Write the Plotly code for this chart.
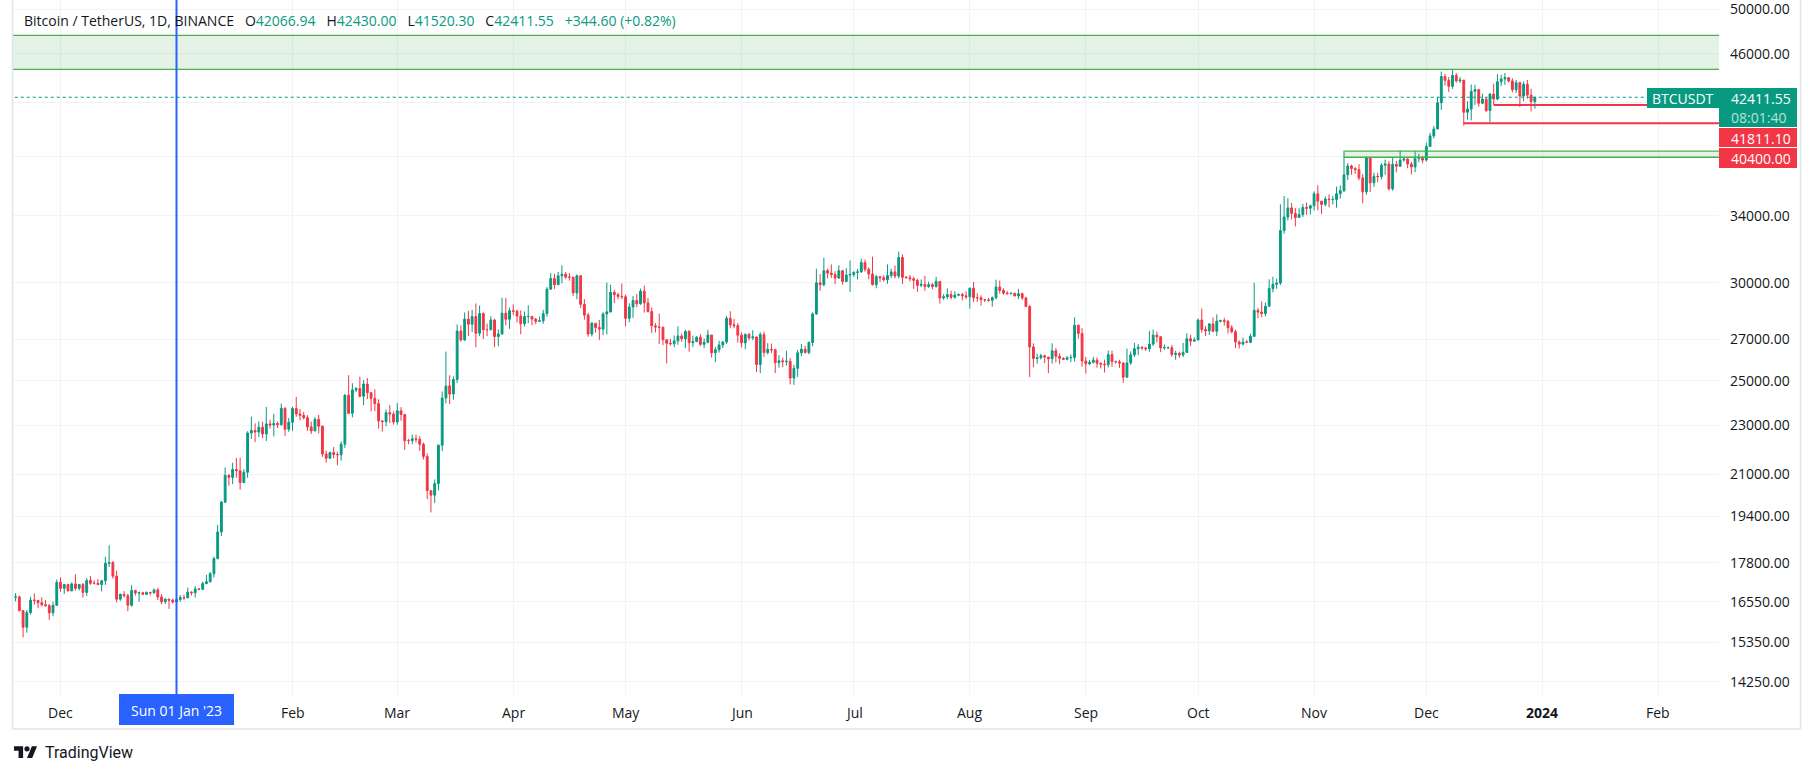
import math
import pandas as pd
import plotly.graph_objects as go

W, H = 1814, 774

# ---------------- data (daily BTCUSDT candles) ----------------
first_open = 16690

c_2022_11 = [16700, 16280, 15780, 16220, 16600, 16590, 16520, 16460, 16430, 16210, 16440, 17160]
h_2022_11 = [16820, 16740, 16290, 16300, 16700, 16810, 16600, 16690, 16600, 16480, 16550, 17250]
l_2022_11 = [16560, 16250, 15480, 15620, 16160, 16460, 16350, 16400, 16400, 16000, 16110, 16420]

c_2022_12 = [16970, 17090, 16890, 17110, 16970, 17090, 16840, 17220, 17130, 17130, 17090, 17210, 17780, 17810, 17360, 16630,
             16780, 16740, 16440, 16900, 16820, 16830, 16780, 16840, 16830, 16920, 16700, 16550, 16630, 16600, 16540]
h_2022_12 = [17320, 17100, 17110, 17160, 17420, 17100, 17140, 17300, 17360, 17230, 17270, 17240, 18000, 18390, 17850, 17530,
             16800, 16880, 16800, 17070, 16920, 16870, 16860, 16870, 16860, 16960, 16980, 16790, 16660, 16640, 16650]
l_2022_12 = [16860, 16790, 16870, 16880, 16900, 16900, 16680, 16730, 17080, 17090, 17070, 16870, 17080, 17660, 17280, 16530,
             16580, 16680, 16260, 16400, 16740, 16550, 16770, 16760, 16750, 16800, 16600, 16470, 16480, 16330, 16490]

c_2023_01 = [16620, 16680, 16670, 16850, 16830, 16950, 16940, 17120, 17180, 17440, 17940, 18850, 19930, 20950, 20870, 21180,
             21130, 20670, 21070, 22670, 22780, 22710, 22920, 22630, 23060, 23010, 23080, 23030, 23740, 22830, 23130]
h_2023_01 = [16630, 16760, 16770, 16990, 16880, 17040, 16970, 17180, 17400, 17490, 18000, 19100, 19970, 21260, 21000, 21450,
             21640, 21650, 21190, 22750, 23370, 23080, 23170, 23160, 23800, 23240, 23500, 23160, 23950, 23790, 23320]
l_2023_01 = [16500, 16550, 16600, 16660, 16750, 16680, 16910, 16910, 17100, 17150, 17310, 17910, 18710, 19890, 20550, 20610,
             20860, 20400, 20660, 20860, 22420, 22290, 22510, 22460, 22330, 22860, 22530, 22880, 22980, 22550, 22720]

c_2023_02 = [23730, 23490, 23430, 23330, 22930, 22760, 23260, 22960, 21800, 21630, 21860, 21780, 21770, 22200, 24330, 23520,
             24570, 24630, 24280, 24840, 24440, 24190, 23950, 23190, 23160, 23550, 23490, 23140]
h_2023_02 = [23810, 24250, 23710, 23590, 23440, 23160, 23360, 23450, 22990, 21940, 21900, 22090, 21890, 22320, 24380, 25250,
             24880, 24700, 25190, 25020, 25120, 24480, 24600, 24140, 23220, 23690, 23880, 23600]
l_2023_02 = [22760, 23360, 23210, 23250, 22760, 22630, 22750, 22660, 21690, 21450, 21600, 21630, 21350, 21530, 22050, 23500,
             23340, 24470, 24230, 23880, 24150, 23600, 23620, 22860, 22730, 22960, 23100, 23030]

c_2023_03 = [23630, 23470, 22350, 22350, 22430, 22410, 22200, 21700, 20360, 20190, 20630, 22160, 24200, 24750, 24380, 25050,
             27420, 26970, 28040, 27770, 28170, 27310, 28330, 27490, 27490, 27990, 27140, 27270, 28350, 28030, 28480]
h_2023_03 = [23980, 23790, 23480, 22420, 22610, 22600, 22540, 22270, 21820, 20370, 20790, 22190, 24500, 26390, 25250, 25200,
             27760, 27720, 28390, 28470, 28530, 28870, 28760, 28390, 27800, 28190, 28050, 27500, 29180, 29170, 28650]
l_2023_03 = [23020, 23190, 21970, 22200, 22200, 22270, 21930, 21580, 20040, 19550, 19900, 20370, 21920, 23960, 23930, 24120,
             24890, 26880, 26920, 27170, 27370, 26600, 27160, 27020, 27160, 27450, 26610, 26650, 27250, 27710, 27530]

c_2023_04 = [28450, 28200, 27800, 28170, 28180, 28040, 27920, 27950, 28330, 29650, 30240, 29900, 30400, 30490, 30320, 30320,
             29440, 30400, 28820, 28250, 27270, 27820, 27600, 27520, 28310, 28420, 29480, 29340, 29250, 29230]
h_2023_04 = [28820, 28540, 28500, 28440, 28770, 28190, 28100, 28170, 28530, 29770, 30550, 30510, 30620, 31000, 30610, 30550,
             30320, 30470, 30420, 29100, 28370, 27890, 27820, 28000, 28400, 30020, 29890, 29600, 29450, 29960]
l_2023_04 = [28250, 27870, 27260, 27660, 27830, 27720, 27780, 27880, 27800, 28170, 29610, 29660, 29870, 29970, 30230, 30120,
             29270, 29100, 28620, 28010, 27130, 27140, 27340, 26970, 27210, 27250, 28380, 28890, 29090, 29100]

c_2023_05 = [28080, 28680, 29030, 28850, 29540, 28900, 28440, 27690, 27630, 27620, 26980, 26800, 26780, 26920, 27170, 27030,
             27400, 26830, 26890, 27110, 26750, 26850, 27220, 26330, 26480, 26720, 26870, 28080, 27740, 27700, 27210]
h_2023_05 = [29340, 28880, 29270, 29380, 29680, 29850, 29170, 28660, 27830, 28330, 27640, 26980, 27030, 27200, 27660, 27280,
             27490, 27470, 27180, 27160, 27260, 27040, 27490, 27210, 26620, 26930, 26890, 28200, 28450, 28050, 27830]
l_2023_05 = [27660, 27870, 28110, 28670, 28800, 28380, 28380, 27320, 27350, 26770, 26710, 25810, 26690, 26610, 26730, 26880,
             26560, 26380, 26620, 26850, 26660, 26560, 26800, 26100, 25870, 26340, 26560, 26770, 27560, 27570, 26840]

c_2023_06 = [26820, 27250, 27070, 27120, 25760, 27240, 26340, 26500, 26480, 25850, 25940, 25900, 25920, 25120, 25580, 26330,
             26510, 26340, 26840, 28310, 30000, 29890, 30690, 30550, 30470, 30270, 30690, 30080, 30440, 30470]
h_2023_06 = [27350, 27300, 27320, 27460, 27140, 27360, 27390, 26810, 26790, 26530, 26210, 26090, 26430, 26070, 25750, 26470,
             26770, 26680, 26890, 28400, 30800, 30500, 31430, 30810, 31050, 30660, 31000, 30710, 30830, 31280]
l_2023_06 = [26600, 26510, 26950, 26960, 25400, 25350, 26130, 26250, 26320, 25350, 25610, 25630, 25710, 24820, 24800, 25170,
             26170, 26290, 26260, 26650, 28260, 29560, 29810, 30250, 30280, 29930, 30230, 29900, 30040, 29500]

c_2023_07 = [30590, 30620, 31160, 30770, 30500, 29900, 30350, 30290, 30170, 30410, 30620, 30380, 31450, 30310, 30290, 30230,
             30140, 29860, 29910, 29800, 29900, 29790, 30080, 29170, 29230, 29350, 29210, 29320, 29350, 29280, 29230]
h_2023_07 = [30660, 30790, 31380, 31330, 30880, 31500, 30450, 30380, 30440, 31050, 30800, 30990, 31800, 31630, 30390, 30440,
             30340, 30240, 30190, 30400, 30060, 29990, 30340, 30100, 29380, 29690, 29570, 29530, 29420, 29450, 29530]
l_2023_07 = [30330, 30190, 30570, 30630, 30200, 29850, 29700, 30050, 30080, 29950, 30280, 30250, 30250, 29940, 30250, 30080,
             29660, 29500, 29760, 29560, 29720, 29640, 29740, 28860, 29060, 29100, 29090, 29130, 29260, 29030, 29100]

c_2023_08 = [29700, 29180, 29180, 29070, 29060, 29040, 29180, 29770, 29580, 29430, 29400, 29420, 29280, 29400, 29170, 28700,
             26620, 26050, 26090, 26190, 26120, 26040, 26430, 26160, 26060, 26010, 26090, 26100, 27720, 27300, 25930]
h_2023_08 = [29740, 30050, 29420, 29310, 29110, 29170, 29250, 30180, 30130, 29700, 29540, 29470, 29450, 29660, 29460, 29230,
             28780, 26800, 26290, 26290, 26240, 26130, 26800, 26560, 26300, 26110, 26170, 26250, 28140, 27760, 27570]
l_2023_08 = [28590, 28940, 28960, 28750, 28950, 28970, 28700, 29100, 29400, 29350, 29360, 29360, 29250, 29100, 29060, 28680,
             25170, 25630, 25800, 26000, 25820, 25350, 25800, 25860, 25780, 25980, 25960, 25880, 25910, 27030, 25660]

c_2023_09 = [25800, 25870, 25970, 25820, 25780, 25750, 26240, 25900, 25890, 25830, 25160, 25840, 26230, 26530, 26600, 26570,
             26530, 26760, 27210, 27130, 26570, 26580, 26580, 26250, 26300, 26220, 26350, 27030, 26910, 26970]
h_2023_09 = [26130, 25980, 26130, 26100, 25860, 26000, 26440, 26430, 25950, 25980, 25880, 26540, 26400, 26820, 26770, 26660,
             26620, 27430, 27490, 27390, 27160, 26740, 26640, 26720, 26430, 26390, 26820, 27310, 27230, 27090]
l_2023_09 = [25330, 25730, 25810, 25610, 25570, 25380, 25620, 25650, 25800, 25600, 24900, 25130, 25750, 26130, 26220, 26480,
             26420, 26380, 26670, 26850, 26360, 26480, 26520, 26130, 25990, 26090, 26120, 26330, 26670, 26890]

c_2023_10 = [27990, 27500, 27430, 27790, 27410, 27930, 27960, 27920, 27590, 27390, 26870, 26760, 26860, 26850, 27150, 28500,
             28410, 28330, 28720, 29680, 29920, 29990, 33070, 33920, 34500, 34150, 33890, 34080, 34530, 34480, 34640]
h_2023_10 = [28070, 28600, 27670, 27830, 28120, 28290, 28010, 28110, 27990, 27730, 27480, 26940, 27090, 26970, 27290, 30000,
             28620, 28980, 28920, 30200, 30340, 30230, 34740, 35280, 35130, 34830, 34490, 34480, 34760, 34850, 34720]
l_2023_10 = [26950, 27340, 27160, 27220, 27360, 27170, 27860, 27700, 27300, 27300, 26560, 26540, 26700, 26810, 26810, 27110,
             28080, 28140, 28180, 28700, 29470, 29670, 29880, 32880, 33700, 33760, 33330, 33890, 33930, 34050, 34080]

c_2023_11 = [35420, 34940, 34730, 35080, 35040, 35050, 35420, 35630, 36700, 37310, 37130, 37060, 36490, 35550, 37880, 36160,
             36590, 36570, 37360, 37450, 35750, 37420, 37290, 37720, 37790, 37450, 37240, 37820, 37850, 37720]
h_2023_11 = [35580, 35980, 34950, 35250, 35380, 35280, 35900, 35980, 37970, 37520, 37400, 37230, 37440, 36750, 37980, 37930,
             36850, 36840, 37500, 37750, 37650, 37890, 37650, 38420, 37890, 37840, 37590, 38380, 38170, 38000]
l_2023_11 = [34330, 34350, 34100, 34590, 34540, 34730, 34520, 35110, 35540, 36340, 36710, 36760, 36330, 34800, 35360, 35530,
             35880, 36200, 36380, 36700, 35630, 35620, 36870, 37250, 37600, 37150, 36720, 36880, 37560, 37500]

c_2023_12 = [38690, 39460, 39970, 41980, 44080, 43770, 43290, 44170, 43720, 43790, 41240, 41490, 42880, 43020, 41940, 42260,
             41370, 42660, 42270, 43650, 43880, 43990, 43720, 43010, 43580, 42510, 43450, 42580, 42066.94, 42411.55]
h_2023_12 = [38970, 39690, 40190, 42430, 44490, 44300, 44050, 44700, 44370, 44040, 43800, 42100, 43430, 43400, 43090, 42700,
             42430, 42750, 43500, 44280, 44240, 44370, 44000, 43940, 43800, 43650, 43680, 43800, 43100, 42430.00]
l_2023_12 = [37610, 38650, 39280, 39970, 41420, 43340, 42820, 43080, 43580, 43560, 40220, 40680, 40630, 41810, 41660, 41870,
             41250, 40500, 41811.10, 42180, 43300, 43400, 43590, 42800, 42750, 41650, 42100, 42300, 41300, 41520.30]

month_starts = ["2022-11-19", "2022-12-01", "2023-01-01", "2023-02-01", "2023-03-01", "2023-04-01", "2023-05-01",
                "2023-06-01", "2023-07-01", "2023-08-01", "2023-09-01", "2023-10-01", "2023-11-01", "2023-12-01"]
month_data = [(c_2022_11, h_2022_11, l_2022_11), (c_2022_12, h_2022_12, l_2022_12), (c_2023_01, h_2023_01, l_2023_01),
              (c_2023_02, h_2023_02, l_2023_02), (c_2023_03, h_2023_03, l_2023_03), (c_2023_04, h_2023_04, l_2023_04),
              (c_2023_05, h_2023_05, l_2023_05), (c_2023_06, h_2023_06, l_2023_06), (c_2023_07, h_2023_07, l_2023_07),
              (c_2023_08, h_2023_08, l_2023_08), (c_2023_09, h_2023_09, l_2023_09), (c_2023_10, h_2023_10, l_2023_10),
              (c_2023_11, h_2023_11, l_2023_11), (c_2023_12, h_2023_12, l_2023_12)]

# price-scale ticks (42000 / 38000 hidden behind price labels)
y_tick_vals = [50000, 46000, 42000, 38000, 34000, 30000, 27000, 25000, 23000, 21000, 19400, 17800, 16550, 15350, 14250]
y_tick_text = ["50000.00", "46000.00", "", "", "34000.00", "30000.00", "27000.00", "25000.00", "23000.00",
               "21000.00", "19400.00", "17800.00", "16550.00", "15350.00", "14250.00"]

# time-scale ticks
x_tick_dates = ["2022-12-01", "2023-01-01", "2023-02-01", "2023-03-01", "2023-04-01", "2023-05-01", "2023-06-01",
                "2023-07-01", "2023-08-01", "2023-09-01", "2023-10-01", "2023-11-01", "2023-12-01", "2024-01-01",
                "2024-02-01"]
x_tick_text = ["Dec", "Jan", "Feb", "Mar", "Apr", "May", "Jun", "Jul", "Aug", "Sep", "Oct", "Nov", "Dec", "2024", "Feb"]

# drawings / price lines
last_price = 42411.55
red_line_levels = [41811.10, 40400.00]
red_line_starts = ["2023-12-19", "2023-12-11"]
top_zone = (44680, 47600)
low_zone = (37920, 38350)
low_zone_start = "2023-11-09"
crosshair_date = "2023-01-01"

legend_vals = ["42066.94", "42430.00", "41520.30", "42411.55"]
legend_change = "+344.60 (+0.82%)"

# ---------------- build candles ----------------
dates, opens, highs, lows, closes = [], [], [], [], []
prev = first_open
for start, (cs, hs, ls) in zip(month_starts, month_data):
    n = min(len(cs), len(hs), len(ls))
    d0 = pd.Timestamp(start)
    for i in range(n):
        dates.append(d0 + pd.Timedelta(days=i))
        opens.append(prev)
        closes.append(cs[i])
        highs.append(max(hs[i], prev, cs[i]))
        lows.append(min(ls[i], prev, cs[i]))
        prev = cs[i]

# ---------------- geometry ----------------
UP, DOWN = "#089981", "#F23645"
TXT = "#131722"
GRID = "#F0F3FA"
FONT = "Open Sans"
PANE_L, PANE_R, PANE_B = 13, 1719, 695
JAN1_X, PXD = 176.5, 3.742
base = pd.Timestamp("2023-01-01")
x0_range = base + pd.Timedelta(days=(PANE_L - JAN1_X) / PXD)
x1_range = base + pd.Timedelta(days=(PANE_R - JAN1_X) / PXD)
PPU = 536.1  # pixels per ln unit
p_top = 50000 * math.exp(9 / PPU)
p_bot = 50000 * math.exp(-(PANE_B - 9) / PPU)


def px(x):
    return x / W


def py(y):
    return 1 - y / H


far_left = x0_range - pd.Timedelta(days=30)
far_right = x1_range + pd.Timedelta(days=30)

fig = go.Figure()

# zones
for (lo, hi), xs in [(top_zone, far_left), (low_zone, pd.Timestamp(low_zone_start))]:
    fig.add_trace(go.Scatter(
        x=[xs, far_right, far_right, xs, xs], y=[lo, lo, hi, hi, lo],
        mode="lines", fill="toself", fillcolor="rgba(76,175,80,0.15)",
        line=dict(color="#4CAF50", width=1.3), hoverinfo="skip"))

fig.add_trace(go.Candlestick(
    x=dates, open=opens, high=highs, low=lows, close=closes,
    increasing=dict(line=dict(color=UP, width=1), fillcolor=UP),
    decreasing=dict(line=dict(color=DOWN, width=1), fillcolor=DOWN),
    whiskerwidth=0, hoverinfo="skip"))

# last price dotted line
fig.add_trace(go.Scatter(x=[far_left, far_right], y=[last_price, last_price], mode="lines",
                         line=dict(color=UP, width=1, dash="dot"), hoverinfo="skip"))
# red horizontal rays
for lvl, st in zip(red_line_levels, red_line_starts):
    fig.add_trace(go.Scatter(x=[pd.Timestamp(st), far_right], y=[lvl, lvl], mode="lines",
                             line=dict(color=DOWN, width=2), hoverinfo="skip"))

shapes = []
annotations = []

# crosshair vertical line
shapes.append(dict(type="line", xref="x", yref="paper", x0=crosshair_date, x1=crosshair_date,
                   y0=py(PANE_B), y1=1, line=dict(color="#2962FF", width=2)))

# frame
frame_col = "#E0E3EB"
shapes.append(dict(type="line", xref="paper", yref="paper", x0=px(12.5), x1=px(12.5), y0=py(729), y1=1,
                   line=dict(color=frame_col, width=1.5)))
shapes.append(dict(type="line", xref="paper", yref="paper", x0=px(1800.5), x1=px(1800.5), y0=py(729), y1=1,
                   line=dict(color=frame_col, width=1.5)))
shapes.append(dict(type="line", xref="paper", yref="paper", x0=px(12.5), x1=px(1800.5), y0=py(729), y1=py(729),
                   line=dict(color=frame_col, width=1.5)))


def box(x0, y0, x1, y1, color):
    shapes.append(dict(type="rect", xref="paper", yref="paper", x0=px(x0), x1=px(x1), y0=py(y1), y1=py(y0),
                       fillcolor=color, line=dict(width=0), layer="above"))


def label(text, x, y, color="white", anchor="left", size=14, bold=False, family=FONT):
    annotations.append(dict(text=("<b>%s</b>" % text) if bold else text, x=px(x), y=py(y), xref="paper",
                            yref="paper", xanchor=anchor, yanchor="middle", showarrow=False,
                            font=dict(family=family, size=size, color=color)))


# price-scale labels
box(1647, 88, 1719, 108, UP)
box(1719, 88, 1797, 127, UP)
label("BTCUSDT", 1683, 98.5, anchor="center")
label("%.2f" % last_price, 1729, 98.5)
label("08:01:40", 1729, 117.5, color="rgba(255,255,255,0.72)")
box(1719, 128, 1797, 147, DOWN)
label("%.2f" % red_line_levels[0], 1729, 138)
box(1719, 148, 1797, 168, DOWN)
label("%.2f" % red_line_levels[1], 1729, 158.5)

# time-scale labels
for d, t in zip(x_tick_dates, x_tick_text):
    if d == crosshair_date:
        continue
    annotations.append(dict(text=("<b>%s</b>" % t) if t == "2024" else t, x=d, xref="x", y=py(712.5),
                            yref="paper", xanchor="center", yanchor="middle", showarrow=False,
                            font=dict(family=FONT, size=14, color=TXT)))
# crosshair time label
box(119, 694, 234, 725, "#2962FF")
annotations.append(dict(text="Sun 01 Jan '23", x=crosshair_date, xref="x", y=py(710), yref="paper",
                        xanchor="center", yanchor="middle", showarrow=False,
                        font=dict(family=FONT, size=14, color="white")))

# legend line
sp = "\u00a0\u00a0\u00a0"
g = lambda s: "<span style='color:%s'>%s</span>" % (UP, s)
legend = ("Bitcoin / TetherUS, 1D, BINANCE" + sp + "O" + g(legend_vals[0]) + sp + "H" + g(legend_vals[1]) + sp +
          "L" + g(legend_vals[2]) + sp + "C" + g(legend_vals[3]) + sp + g(legend_change))
label(legend, 22, 20, color=TXT)

# TradingView logo
s = 0.65
ox, oy = 14, 743.6


def P(x, y):
    return "%.6f,%.6f" % (px(ox + x * s), py(oy + y * s))


logo_path = "M" + P(14, 22) + " L" + P(7, 22) + " L" + P(7, 11) + " L" + P(0, 11) + " L" + P(0, 4) + " L" + P(14, 4) + " Z"
para_path = "M" + P(28, 22) + " L" + P(20, 22) + " L" + P(27.5, 4) + " L" + P(35.5, 4) + " Z"
shapes.append(dict(type="path", xref="paper", yref="paper", path=logo_path, fillcolor=TXT, line=dict(width=0)))
shapes.append(dict(type="path", xref="paper", yref="paper", path=para_path, fillcolor=TXT, line=dict(width=0)))
shapes.append(dict(type="circle", xref="paper", yref="paper", x0=px(ox + 16 * s), x1=px(ox + 24 * s),
                   y0=py(oy + 12 * s), y1=py(oy + 4 * s), fillcolor=TXT, line=dict(width=0)))
label("TradingView", 43, 752, color=TXT, size=16, family="Roboto")

fig.update_layout(
    width=W, height=H, margin=dict(l=0, r=0, t=0, b=0),
    paper_bgcolor="white", plot_bgcolor="white",
    showlegend=False, hovermode=False, dragmode=False,
    font=dict(family=FONT, size=14, color=TXT),
    shapes=shapes, annotations=annotations,
    xaxis=dict(type="date", domain=[px(PANE_L), px(PANE_R)], range=[x0_range, x1_range],
               tickvals=x_tick_dates, showticklabels=False, ticks="", showgrid=True, gridcolor=GRID, gridwidth=1,
               zeroline=False, showline=False, rangeslider=dict(visible=False), fixedrange=True),
    yaxis=dict(type="log", domain=[py(PANE_B), 1], range=[math.log10(p_bot), math.log10(p_top)],
               side="right", tickvals=y_tick_vals, ticktext=y_tick_text, ticks="", ticklabelstandoff=10,
               ticklabeloverflow="allow",
               tickfont=dict(family=FONT, size=14, color=TXT), showgrid=True, gridcolor=GRID, gridwidth=1,
               zeroline=False, showline=False, fixedrange=True),
)

fig.write_html("out.html", config={"displayModeBar": False, "staticPlot": True})
